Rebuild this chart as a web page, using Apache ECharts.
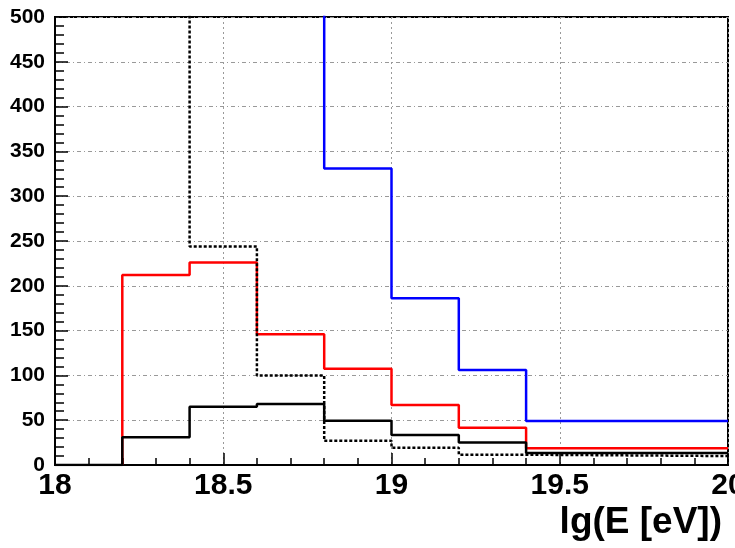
<!DOCTYPE html>
<html>
<head>
<meta charset="utf-8">
<script src="https://cdn.jsdelivr.net/npm/echarts@6/dist/echarts.min.js"></script>
<style>html,body{margin:0;padding:0;background:#fff}#c{width:735px;height:548px}</style>
</head>
<body>
<div id="c"></div>
<script>
// bin edges in lg(E/eV)
const binEdges = [18.0, 18.2, 18.4, 18.6, 18.8, 19.0, 19.2, 19.4, 20.0];
// per-bin values (null = not drawn; values above 500 run off the top of the frame)
const redValues    = [0, 212, 226, 146, 107.5, 67, 41.5, 18.6];
const blackValues  = [0, 31, 65, 68, 49.5, 33.5, 25, 13.5];
const dashedValues = [null, 700, 244, 100, 27, 19.3, 11.5, 10];
const blueValues   = [null, null, null, 700, 331, 186, 106, 49];
const xTicks = [18, 18.5, 19, 19.5, 20];

// skipEmptyStart: a leading empty bin only contributes the rising edge, not its floor segment
function steps(vals, skipEmptyStart) {
  const pts = [];
  for (let i = 0; i < vals.length; i++) {
    if (vals[i] === null) { pts.push([binEdges[i], null]); continue; }
    if (skipEmptyStart && i === 0 && vals[i] === 0) { pts.push([binEdges[i + 1], 0]); continue; }
    pts.push([binEdges[i], vals[i]]);
    pts.push([binEdges[i + 1], vals[i]]);
  }
  return pts;
}
function ser(name, vals, color, type, z, skip) {
  return {
    name, type: 'line', data: steps(vals, skip), symbol: 'none', clip: true,
    connectNulls: false, silent: true, z,
    lineStyle: { color, width: 2.5, type: type || 'solid' }
  };
}

const chart = echarts.init(document.getElementById('c'));
chart.setOption({
  animation: false,
  backgroundColor: '#fff',
  title: {
    text: 'lg(E [eV])', right: 8, top: 499,
    textStyle: { fontFamily: '"Liberation Sans", Arial, sans-serif', fontWeight: 'bold', fontSize: 37, color: '#000' }
  },
  grid: { left: 55, right: 7, top: 17, bottom: 83, show: true, borderColor: '#000', borderWidth: 2, backgroundColor: 'transparent', outerBoundsMode: 'none', containLabel: false },
  xAxis: {
    type: 'value', min: 18, max: 20, interval: 0.5,
    axisLine: { show: true, lineStyle: { color: '#000', width: 2 } },
    axisTick: { show: true, inside: true, length: 12, lineStyle: { color: '#000', width: 1.5 } },
    minorTick: { show: true, splitNumber: 5, length: 7, lineStyle: { color: '#000', width: 1.5 } },
    splitLine: { show: true, lineStyle: { color: '#999', width: 1, type: [2, 3] } },
    axisLabel: {
      margin: 6, color: '#000', fontWeight: 'bold', fontSize: 30,
      fontFamily: '"Liberation Sans", Arial, sans-serif',
      showMaxLabel: true, showMinLabel: true, hideOverlap: false,
      formatter: v => { const t = xTicks.find(x => Math.abs(x - v) < 1e-6); return t === undefined ? '' : String(t); }
    }
  },
  yAxis: {
    type: 'value', min: 0, max: 500, interval: 50,
    axisLine: { show: true, lineStyle: { color: '#000', width: 2 } },
    axisTick: { show: true, inside: true, length: 13, lineStyle: { color: '#000', width: 1.5 } },
    minorTick: { show: true, splitNumber: 5, length: 9, lineStyle: { color: '#000', width: 1.5 } },
    splitLine: { show: true, lineStyle: { color: '#999', width: 1, type: [4, 3, 1, 3] } },
    axisLabel: {
      margin: 10, color: '#000', fontWeight: 'bold', fontSize: 21,
      fontFamily: '"Liberation Sans", Arial, sans-serif'
    }
  },
  series: [
    ser('red', redValues, '#ff0000', null, 2, true),
    ser('dashed', dashedValues, '#000000', [3, 2], 3, false),
    ser('black', blackValues, '#000000', null, 4, false),
    ser('blue', blueValues, '#0000ff', null, 5, false)
  ]
});
</script>
</body>
</html>
